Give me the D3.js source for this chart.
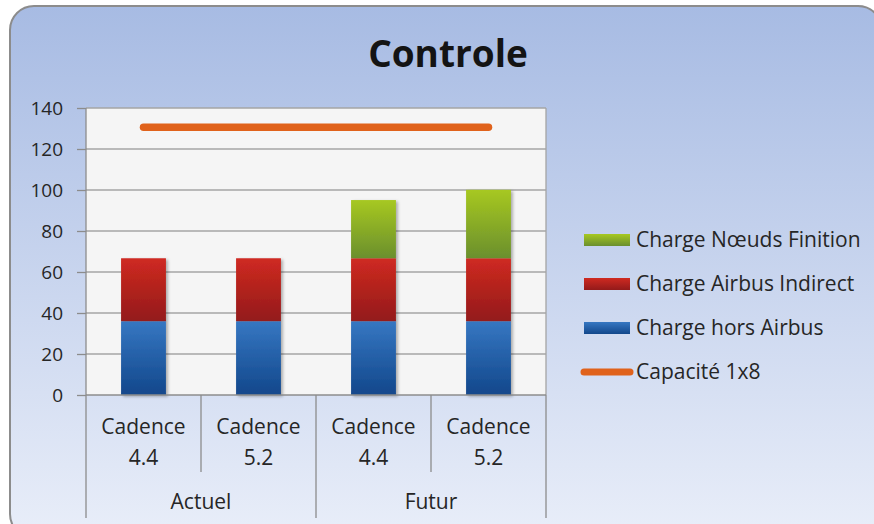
<!DOCTYPE html>
<html>
<head>
  <meta charset="UTF-8">
  <style>
    body { margin: 0; background: #fff; }
    svg { display: block; }
    text { font-family: "Open Sans", sans-serif; fill: #262626; }
  </style>
</head>
<body>
  <script src="https://d3js.org/d3.v7.min.js"></script>
  <script>
    // donnees du graphique
    var sousCategories = ["Cadence|4.4", "Cadence|5.2", "Cadence|4.4", "Cadence|5.2"];
    var groupes = ["Actuel", "Futur"];
    var horsAirbus = [36, 36, 36, 36];
    var airbusIndirect = [30.7, 30.7, 30.7, 30.7];
    var noeudsFinition = [0, 0, 28.4, 33.4];
    var capacite = [130.6, 130.6, 130.6, 130.6];
    var yTicks = [0, 20, 40, 60, 80, 100, 120, 140];

    var series = [
      { nom: "Charge hors Airbus", valeurs: horsAirbus, haut: "#3677c2", bas: "#12478b" },
      { nom: "Charge Airbus Indirect", valeurs: airbusIndirect, haut: "#cf2a21", bas: "#931a1a" },
      { nom: "Charge Nœuds Finition", valeurs: noeudsFinition, haut: "#a7c820", bas: "#6a8f2e" }
    ];

    var W = 874, H = 524;
    var plot = { left: 86, right: 546, top: 108, bottom: 395 };

    var svg = d3.select("body").append("svg").attr("width", W).attr("height", H);
    var defs = svg.append("defs");

    var fond = defs.append("linearGradient").attr("id", "fond")
      .attr("x1", 0).attr("y1", 0).attr("x2", 0).attr("y2", 1);
    fond.append("stop").attr("offset", "0%").attr("stop-color", "#a7bbe3");
    fond.append("stop").attr("offset", "100%").attr("stop-color", "#e9eef9");

    series.forEach(function(s, i) {
      var g = defs.append("linearGradient").attr("id", "grad" + i)
        .attr("x1", 0).attr("y1", 0).attr("x2", 0).attr("y2", 1);
      g.append("stop").attr("offset", "0%").attr("stop-color", s.haut);
      g.append("stop").attr("offset", "100%").attr("stop-color", s.bas);
    });

    var ombre = defs.append("filter").attr("id", "ombre")
      .attr("x", "-20%").attr("y", "-20%").attr("width", "150%").attr("height", "150%");
    ombre.append("feDropShadow").attr("dx", 2).attr("dy", 1.5)
      .attr("stdDeviation", 1.5).attr("flood-color", "#000").attr("flood-opacity", 0.3);

    // cadre
    svg.append("rect")
      .attr("x", 10).attr("y", 6).attr("width", 872).attr("height", 532)
      .attr("rx", 24).attr("ry", 24)
      .attr("fill", "url(#fond)")
      .attr("stroke", "#8c8c8c").attr("stroke-width", 2);

    svg.append("text")
      .attr("x", 448).attr("y", 67)
      .attr("text-anchor", "middle")
      .style("font-size", "37px").style("font-weight", "bold")
      .style("fill", "#141414")
      .text("Controle");

    var x = d3.scaleBand()
      .domain(d3.range(sousCategories.length))
      .range([plot.left, plot.right])
      .paddingInner(0.61).paddingOuter(0.305);

    var y = d3.scaleLinear().domain([0, 140]).range([plot.bottom, plot.top]);

    svg.append("rect")
      .attr("x", plot.left).attr("y", plot.top)
      .attr("width", plot.right - plot.left).attr("height", plot.bottom - plot.top)
      .attr("fill", "#f5f5f5");

    // grille
    svg.append("g").selectAll("line").data(yTicks.filter(function(t) { return t > 0; }))
      .enter().append("line")
      .attr("x1", plot.left).attr("x2", plot.right)
      .attr("y1", function(d) { return y(d); }).attr("y2", function(d) { return y(d); })
      .attr("stroke", "#a4a4a4").attr("stroke-width", 1.3);

    svg.append("line")
      .attr("x1", plot.right).attr("x2", plot.right)
      .attr("y1", plot.top).attr("y2", plot.bottom)
      .attr("stroke", "#a4a4a4").attr("stroke-width", 1.3);

    // axe y
    var axeY = svg.append("g")
      .attr("transform", "translate(" + plot.left + ",0)")
      .call(d3.axisLeft(y).tickValues(yTicks).tickSize(9).tickPadding(14));
    axeY.select(".domain").remove();
    axeY.selectAll(".tick line").attr("stroke", "#8c8c8c").attr("stroke-width", 1.3);
    axeY.selectAll(".tick text")
      .style("font-family", "'Open Sans', sans-serif")
      .style("font-size", "19px").style("fill", "#262626");

    // barres empilees
    var pile = d3.stack().keys([0, 1, 2])
      .value(function(d, k) { return series[k].valeurs[d]; })(d3.range(sousCategories.length));

    var couches = svg.append("g").attr("filter", "url(#ombre)");
    pile.forEach(function(couche, k) {
      couches.selectAll(".b" + k).data(couche.filter(function(d) { return d[1] > d[0]; }))
        .enter().append("rect")
        .attr("x", function(d) { return x(d.data); })
        .attr("width", x.bandwidth())
        .attr("y", function(d) { return y(d[1]); })
        .attr("height", function(d) { return y(d[0]) - y(d[1]); })
        .attr("fill", "url(#grad" + k + ")");
    });

    // ligne capacite
    svg.append("path")
      .datum(capacite)
      .attr("d", d3.line()
        .x(function(d, i) { return x(i) + x.bandwidth() / 2; })
        .y(function(d) { return y(d); }))
      .attr("fill", "none")
      .attr("stroke", "#e0621b").attr("stroke-width", 7.5)
      .attr("stroke-linecap", "round");

    // axe categories
    var axeX = svg.append("g");
    var ligneAxe = { stroke: "#8c8c8c", w: 1.3 };
    axeX.append("line")
      .attr("x1", plot.left).attr("x2", plot.right)
      .attr("y1", plot.bottom).attr("y2", plot.bottom)
      .attr("stroke", ligneAxe.stroke).attr("stroke-width", ligneAxe.w);

    var bordsSous = d3.range(1, sousCategories.length).filter(function(i) { return i % 2 === 1; });
    axeX.selectAll(".sep1").data(bordsSous).enter().append("line")
      .attr("x1", function(i) { return x(i) - x.step() * x.paddingInner() / 2; })
      .attr("x2", function(i) { return x(i) - x.step() * x.paddingInner() / 2; })
      .attr("y1", plot.bottom).attr("y2", 472)
      .attr("stroke", ligneAxe.stroke).attr("stroke-width", ligneAxe.w);

    var bordsGroupes = [0, 2, 4];
    axeX.selectAll(".sep2").data(bordsGroupes).enter().append("line")
      .attr("x1", function(i) { return plot.left + i * x.step(); })
      .attr("x2", function(i) { return plot.left + i * x.step(); })
      .attr("y1", function(i) { return i === 0 ? plot.top : plot.bottom; })
      .attr("y2", 518)
      .attr("stroke", ligneAxe.stroke).attr("stroke-width", ligneAxe.w);

    sousCategories.forEach(function(c, i) {
      var morceaux = c.split("|");
      var cx = x(i) + x.bandwidth() / 2;
      morceaux.forEach(function(m, j) {
        axeX.append("text")
          .attr("x", cx).attr("y", 434 + j * 31)
          .attr("text-anchor", "middle")
          .style("font-size", "21px")
          .text(m);
      });
    });

    groupes.forEach(function(g, i) {
      axeX.append("text")
        .attr("x", plot.left + (i * 2 + 1) * x.step())
        .attr("y", 509)
        .attr("text-anchor", "middle")
        .style("font-size", "21px")
        .text(g);
    });

    // legende
    var legende = svg.append("g");
    var ordre = [2, 1, 0];
    ordre.forEach(function(k, j) {
      var yy = 240 + j * 44;
      legende.append("rect")
        .attr("x", 584).attr("y", yy - 6).attr("width", 46).attr("height", 12)
        .attr("fill", "url(#grad" + k + ")");
      legende.append("text")
        .attr("x", 636).attr("y", yy + 7)
        .style("font-size", "21px")
        .text(series[k].nom);
    });
    legende.append("line")
      .attr("x1", 584).attr("x2", 630)
      .attr("y1", 372).attr("y2", 372)
      .attr("stroke", "#e0621b").attr("stroke-width", 7)
      .attr("stroke-linecap", "round");
    legende.append("text")
      .attr("x", 636).attr("y", 379)
      .style("font-size", "21px")
      .text("Capacité 1x8");
  </script>
</body>
</html>
